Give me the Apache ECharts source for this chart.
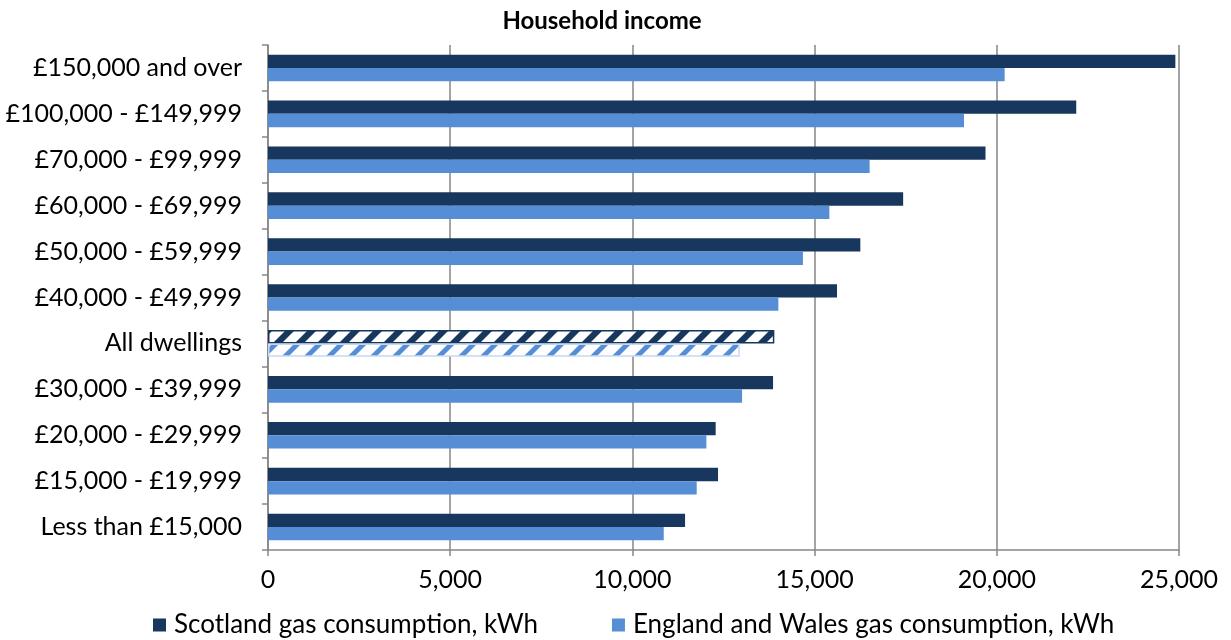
<!DOCTYPE html>
<html>
<head>
<meta charset="utf-8">
<script src="https://cdn.jsdelivr.net/npm/echarts@6/dist/echarts.min.js"></script>
<style>html,body{margin:0;padding:0;background:#fff}#chart{width:1231px;height:640px}</style>
</head>
<body>
<div id="chart"></div>
<script>
const categories = ['£150,000 and over','£100,000 - £149,999','£70,000 - £99,999','£60,000 - £69,999','£50,000 - £59,999','£40,000 - £49,999','All dwellings','£30,000 - £39,999','£20,000 - £29,999','£15,000 - £19,999','Less than £15,000'];
const scotland = [24900, 22180, 19690, 17430, 16255, 15615, 13895, 13860, 12285, 12350, 11445];
const englandWales = [20215, 19100, 16510, 15405, 14680, 14005, 12945, 13010, 12030, 11765, 10860];
const seriesNames = ['Scotland gas consumption, kWh','England and Wales gas consumption, kWh'];
const hatchedCategory = 'All dwellings';
const xTicks = [0, 5000, 10000, 15000, 20000, 25000];

const DARK = '#17375E', LIGHT = '#558ED5';
const FONT = 'Lato';

function makeHatch(color, period, stripe) {
  const c = document.createElement('canvas');
  c.width = period; c.height = period;
  const g = c.getContext('2d');
  g.fillStyle = '#fff';
  g.fillRect(0, 0, period, period);
  g.fillStyle = color;
  for (let k = -1; k <= 1; k++) {
    const o = k * period;
    g.beginPath();
    g.moveTo(o, period);
    g.lineTo(o + stripe, period);
    g.lineTo(o + stripe + period, 0);
    g.lineTo(o + period, 0);
    g.closePath();
    g.fill();
  }
  return c;
}

function buildData(values, hatchColor, stripe, border) {
  return values.map((v, i) => {
    if (categories[i] === hatchedCategory) {
      return { value: v, itemStyle: { color: { image: makeHatch(hatchColor, 22, stripe), repeat: 'repeat' }, borderColor: border, borderWidth: 1.5 } };
    }
    return v;
  });
}

const chart = echarts.init(document.getElementById('chart'), null, { renderer: 'canvas' });
chart.setOption({
  animation: false,
  textStyle: { fontFamily: FONT },
  title: {
    text: 'Household income', left: 597, top: 4, textAlign: 'center',
    textStyle: { fontFamily: FONT, fontWeight: 'bold', fontSize: 24, color: '#000' }
  },
  legend: {
    top: 607, left: 148, itemWidth: 13, itemHeight: 13, itemGap: 74, icon: 'rect',
    textStyle: { fontFamily: FONT, fontSize: 26, color: '#000', padding: [0, 0, 0, 3] },
    data: seriesNames
  },
  grid: { left: 268, right: 52, top: 45, bottom: 90, containLabel: false },
  xAxis: {
    type: 'value', min: 0, max: 25000, interval: 5000,
    axisLine: { show: true, lineStyle: { color: '#868686', width: 1.5 } },
    axisTick: { show: true, length: 6, lineStyle: { color: '#868686', width: 1.5 } },
    splitLine: { show: true, lineStyle: { color: '#868686', width: 1.5 } },
    axisLabel: {
      margin: 17, fontSize: 25, color: '#000', fontFamily: FONT,
      formatter: v => xTicks.includes(v) ? v.toLocaleString('en-GB') : ''
    }
  },
  yAxis: {
    type: 'category', inverse: true, data: categories,
    axisLine: { show: true, lineStyle: { color: '#868686', width: 1.5 } },
    axisTick: { show: true, length: 6, lineStyle: { color: '#868686', width: 1.5 } },
    axisLabel: { margin: 26, fontSize: 25, color: '#000', fontFamily: FONT }
  },
  series: [
    {
      name: seriesNames[0], type: 'bar', barGap: '0%', barCategoryGap: '42%',
      itemStyle: { color: DARK },
      data: buildData(scotland, DARK, 9, DARK)
    },
    {
      name: seriesNames[1], type: 'bar', barGap: '0%', barCategoryGap: '42%',
      itemStyle: { color: LIGHT },
      data: buildData(englandWales, LIGHT, 7, '#C6D9F1')
    }
  ]
});
</script>
</body>
</html>
